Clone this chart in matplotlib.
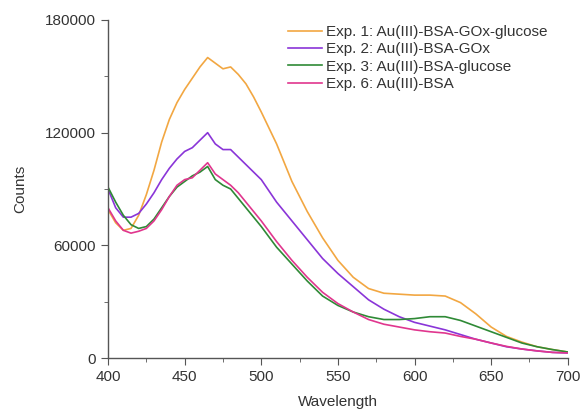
import numpy as np
import matplotlib
matplotlib.use('Agg')
import matplotlib.pyplot as plt
from matplotlib.ticker import MultipleLocator

plt.rcParams['font.family'] = ['Liberation Sans', 'DejaVu Sans']

# Wavelength grid (nm)
wavelength = [400, 405, 410, 415, 420, 425, 430, 435, 440, 445, 450, 455, 460, 465,
              470, 475, 480, 485, 490, 495, 500, 510, 520, 530, 540, 550, 560, 570,
              580, 590, 600, 610, 620, 630, 640, 650, 660, 670, 680, 690, 700]

# Counts
exp1 = [79000, 72000, 68000, 69000, 76000, 87000, 100000, 115000, 127000, 136000,
        143000, 149000, 155000, 160000, 157000, 154000, 155000, 151000, 146000, 139000,
        131000, 114000, 94000, 78000, 64000, 52000, 43000, 37000, 34500, 34000,
        33500, 33500, 33000, 29500, 23500, 16500, 11500, 8500, 6000, 4500, 3200]
exp2 = [90000, 80000, 75000, 75000, 77000, 82000, 88000, 95000, 101000, 106000,
        110000, 112000, 116000, 120000, 114000, 111000, 111000, 107000, 103000, 99000,
        95000, 83000, 73000, 63000, 53000, 45000, 38000, 31000, 26000, 22000,
        19000, 17000, 15000, 12500, 10000, 8000, 6000, 4800, 3800, 3000, 2700]
exp3 = [91000, 83000, 76000, 71000, 69000, 70000, 74000, 80000, 86000, 91000,
        94000, 97000, 99000, 102000, 95000, 92000, 90000, 85000, 80000, 75000,
        70000, 59000, 50000, 41000, 33000, 28000, 24500, 22000, 20500, 20500,
        21000, 22000, 22000, 20000, 17000, 14000, 11000, 8000, 6000, 4500, 3200]
exp6 = [80000, 73000, 68000, 66500, 67500, 69000, 73000, 79000, 86000, 92000,
        95000, 96000, 100000, 104000, 98000, 95000, 92000, 88000, 83000, 78000,
        73000, 62000, 52000, 43000, 35000, 29000, 24500, 20500, 18000, 16500,
        15000, 14000, 13300, 11500, 10000, 8000, 6200, 4800, 3800, 3000, 2700]

labels = ['Exp. 1: Au(III)-BSA-GOx-glucose', 'Exp. 2: Au(III)-BSA-GOx',
          'Exp. 3: Au(III)-BSA-glucose', 'Exp. 6: Au(III)-BSA']
colors = ['#F2A742', '#8A35D8', '#2F8A36', '#E0368E']

fig = plt.figure(figsize=(5.82, 4.12), dpi=100)
ax = fig.add_axes([0.1856, 0.131, 0.79, 0.8205])

for y, lab, c in zip([exp1, exp2, exp3, exp6], labels, colors):
    ax.plot(wavelength, y, color=c, linewidth=1.2, label=lab)

ax.set_xlim(400, 700)
ax.set_ylim(0, 180000)
ax.xaxis.set_major_locator(MultipleLocator(50))
ax.xaxis.set_minor_locator(MultipleLocator(25))
ax.yaxis.set_major_locator(MultipleLocator(60000))
ax.yaxis.set_minor_locator(MultipleLocator(30000))

for side in ['top', 'right']:
    ax.spines[side].set_visible(False)
for side in ['left', 'bottom']:
    ax.spines[side].set_color('#555555')
    ax.spines[side].set_linewidth(1.0)
ax.tick_params(which='major', length=5, color='#555555', labelsize=11, labelcolor='#333333')
ax.tick_params(which='minor', length=3, color='#555555')

ax.set_xlabel('Wavelength', fontsize=11, color='#333333', labelpad=8)
ax.set_ylabel('Counts', fontsize=11, color='#333333', labelpad=13)

fig.legend(loc='upper left', bbox_to_anchor=(288 / 582, 1 - 25 / 412), frameon=False,
           fontsize=11, handlelength=2.2, handletextpad=0.3, labelspacing=0.22,
           borderpad=0, borderaxespad=0, labelcolor='#333333')

fig.savefig('out.png', dpi=100)
